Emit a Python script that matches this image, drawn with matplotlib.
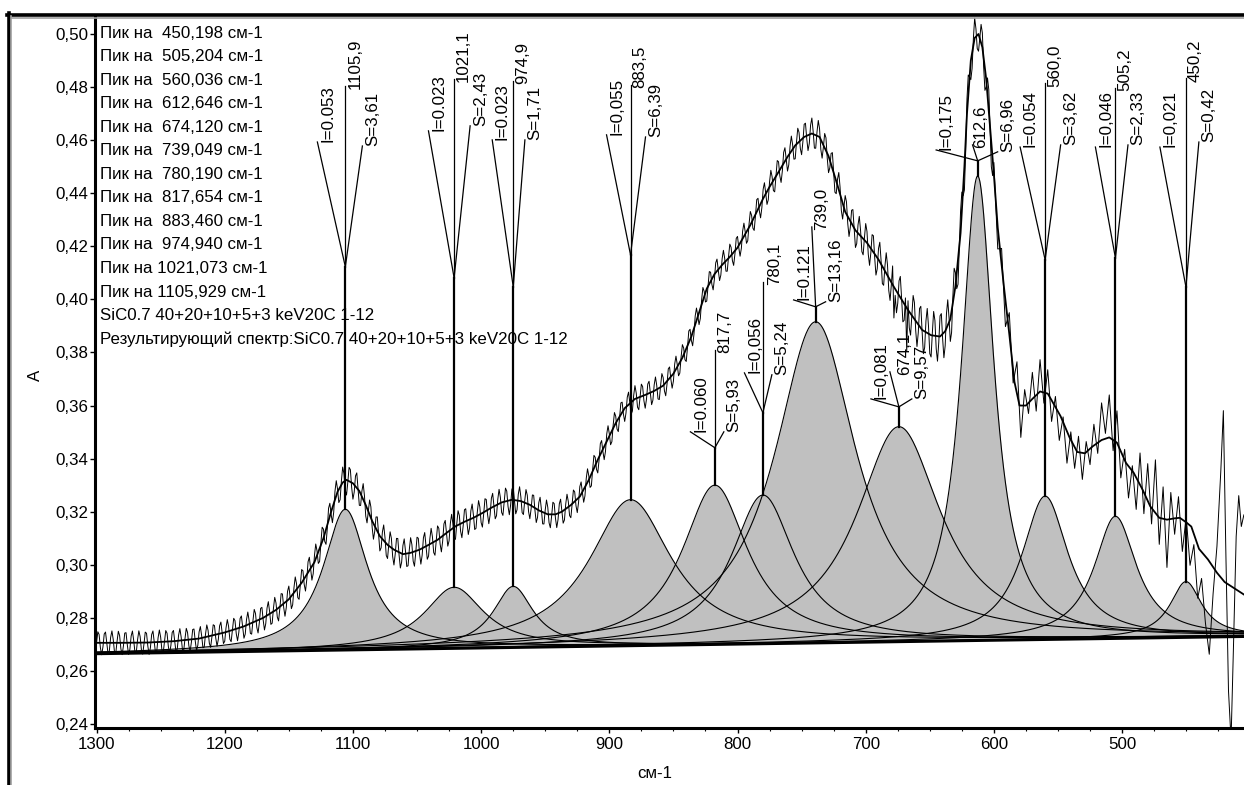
import numpy as np
import matplotlib
matplotlib.use("Agg")
import matplotlib.pyplot as plt
from matplotlib.lines import Line2D
from matplotlib.ticker import MultipleLocator, FuncFormatter

plt.rcParams['font.family'] = ['Liberation Sans', 'DejaVu Sans']

# ---------------- data ----------------
# fitted bands (Lorentzian profiles)
peak_centers = [450.198, 505.204, 560.036, 612.646, 674.120, 739.049,
                780.190, 817.654, 883.460, 974.940, 1021.073, 1105.929]
peak_heights = [0.021, 0.046, 0.054, 0.175, 0.081, 0.121,
                0.056, 0.060, 0.055, 0.023, 0.023, 0.053]
peak_fwhm = [30, 40, 44, 31, 80, 77, 60, 62, 78, 38, 56, 42]

pos_labels = ["450,2", "505,2", "560,0", "612,6", "674,1", "739,0",
              "780,1", "817,7", "883,5", "974,9", "1021,1", "1105,9"]
int_labels = ["I=0,021", "I=0,046", "I=0.054", "I=0,175", "I=0,081", "I=0.121",
              "I=0,056", "I=0.060", "I=0,055", "I=0.023", "I=0.023", "I=0.053"]
area_labels = ["S=0,42", "S=2,33", "S=3,62", "S=6,96", "S=9,57", "S=13,16",
               "S=5,24", "S=5,93", "S=6,39", "S=1,71", "S=2,43", "S=3,61"]

legend_lines = ["Пик на  450,198 см-1", "Пик на  505,204 см-1", "Пик на  560,036 см-1",
                "Пик на  612,646 см-1", "Пик на  674,120 см-1", "Пик на  739,049 см-1",
                "Пик на  780,190 см-1", "Пик на  817,654 см-1", "Пик на  883,460 см-1",
                "Пик на  974,940 см-1", "Пик на 1021,073 см-1", "Пик на 1105,929 см-1",
                "SiC0.7 40+20+10+5+3 keV20C 1-12",
                "Результирующий спектр:SiC0.7 40+20+10+5+3 keV20C 1-12"]

baseline_wn = [405, 1300]
baseline_val = [0.2730, 0.2665]

# resulting (smoothed) spectrum
result_wn = [1300, 1280, 1260, 1240, 1220, 1200, 1185, 1170, 1160, 1150, 1140, 1130,
             1123, 1117, 1112, 1108, 1105, 1100, 1095, 1090, 1085, 1079, 1073, 1068,
             1061, 1055, 1048, 1041, 1034, 1027, 1020, 1013, 1006, 999, 992, 984,
             976, 969, 962, 955, 948, 942, 937, 930, 923, 916, 909, 902, 895, 888,
             880, 872, 865, 858, 850, 843, 836, 830, 824, 818, 812, 806, 800, 790,
             780, 775, 768, 761, 755, 748, 742, 736, 729, 722, 716, 708, 699, 690,
             678, 667, 656, 649, 642, 638, 634, 630, 626, 623, 621, 618, 615, 612,
             609, 606, 603, 600, 597, 592, 588, 584, 580, 575, 570, 564, 558, 555,
             548, 541, 535, 529, 523, 516, 510, 504, 497, 491, 484, 478, 471, 465,
             459, 455, 450, 446, 440, 433, 426, 420, 412, 405]
result_val = [0.2706, 0.2706, 0.2707, 0.2712, 0.2722, 0.2745, 0.2768, 0.2800, 0.2830,
              0.2870, 0.2932, 0.3010, 0.3100, 0.3200, 0.3275, 0.3310, 0.3320, 0.3307,
              0.3278, 0.3225, 0.3165, 0.3108, 0.3075, 0.3057, 0.3040, 0.3045, 0.3057,
              0.3075, 0.3094, 0.3120, 0.3145, 0.3162, 0.3177, 0.3195, 0.3215, 0.3235,
              0.3245, 0.3240, 0.3226, 0.3205, 0.3190, 0.3190, 0.3200, 0.3225, 0.3257,
              0.3320, 0.3396, 0.3465, 0.3534, 0.3590, 0.3625, 0.3640, 0.3655, 0.3675,
              0.3720, 0.3780, 0.3860, 0.3950, 0.4040, 0.4095, 0.4130, 0.4160, 0.4195,
              0.4280, 0.4380, 0.4424, 0.4480, 0.4537, 0.4580, 0.4612, 0.4625, 0.4612,
              0.4540, 0.4430, 0.4330, 0.4260, 0.4213, 0.4150, 0.4047, 0.3960, 0.3885,
              0.3865, 0.3860, 0.3880, 0.3925, 0.4050, 0.4250, 0.4500, 0.4700, 0.4900,
              0.4985, 0.5000, 0.4950, 0.4830, 0.4650, 0.4470, 0.4270, 0.4040, 0.3870,
              0.3690, 0.3600, 0.3600, 0.3625, 0.3653, 0.3645, 0.3620, 0.3560, 0.3480,
              0.3425, 0.3420, 0.3446, 0.3470, 0.3480, 0.3460, 0.3384, 0.3347, 0.3283,
              0.3220, 0.3177, 0.3170, 0.3175, 0.3177, 0.3160, 0.3144, 0.3060, 0.3020,
              0.2970, 0.2935, 0.2910, 0.2888]

fringe_wn = [600, 612, 630, 660, 700, 740, 800, 900, 1000, 1100, 1200, 1300]
fringe_amp = [0.010, 0.007, 0.010, 0.009, 0.007, 0.006, 0.005, 0.005, 0.0055, 0.006, 0.0045, 0.0045]
fringe_period = 5.3
spike_wn = [668, 678]
spike_dev = [-0.025, -0.018]

# noisy low-wavenumber end: deviation of measured spectrum from the resulting one
noise_wn = [597, 594, 591, 588, 585, 582, 579, 576, 573, 570, 567, 564, 561, 558, 555,
            552, 549, 546, 543, 540, 537, 534, 531, 528, 525, 522, 519, 516, 513, 510,
            507, 504, 501, 498, 495, 492, 489, 486, 483, 480, 477, 474, 471, 468, 465,
            462, 459, 456, 453, 450, 447, 444, 441, 438, 435, 432, 429, 426, 423, 421,
            419, 417, 415, 413, 411, 409, 407, 405]
noise_dev = [-0.008, 0.006, -0.010, 0.008, -0.005, 0.012, -0.012, 0.006, -0.004, 0.010,
             -0.006, 0.012, -0.004, 0.009, -0.008, 0.004, -0.010, 0.002, -0.012, 0.003,
             -0.008, 0.006, -0.010, 0.004, -0.006, 0.008, -0.004, 0.014, 0.002, 0.016,
             -0.004, 0.012, -0.010, 0.004, -0.012, 0.002, -0.012, 0.012, -0.008, 0.014,
             -0.006, 0.020, -0.010, 0.012, -0.018, 0.010, -0.006, 0.008, -0.012, 0.002,
             -0.015, -0.004, -0.020, -0.010, -0.025, -0.035, -0.010, 0.010, 0.040, 0.064,
             0.010, -0.040, -0.058, -0.020, 0.020, 0.036, 0.025, 0.030]

# ---------------- annotation layout (positions) ----------------
fork_val = [0.4047, 0.4156, 0.4149, 0.4522, 0.3595, 0.3972, 0.3573, 0.3441, 0.4168, 0.4047, 0.4081, 0.4123]
top_val = [0.4834, 0.4797, 0.4815, 0.4582, 0.3727, 0.4273, 0.4066, 0.3810, 0.4808, 0.4823, 0.4831, 0.4804]
top_dwn = [0, 0, 0, 4, 7, 3, 0, 0, 0, 0, 0, 0]
left_dwn = [20.3, 15.6, 19.5, 32.4, 21.8, 17.2, 14.4, 19.1, 18.7, 16.4, 20.0, 21.8]
left_val = [0.4574, 0.4574, 0.4574, 0.4563, 0.3625, 0.3998, 0.3723, 0.3501, 0.4620, 0.4601, 0.4635, 0.4593]
right_dwn = [-10.1, -9.8, -12.1, -15.6, -10.1, -7.8, -7.0, -7.0, -11.7, -9.1, -12.5, -13.3]
right_val = [0.4593, 0.4582, 0.4582, 0.4556, 0.3625, 0.3991, 0.3716, 0.3501, 0.4612, 0.4601, 0.4654, 0.4578]
pos_dx_pt = [1.5, 1.5, 1.5, 0.5, 5.0, 1.5, 3.0, 1.5, 1.5, 1.5, 1.5, 1.5]

# ---------------- figure ----------------
W, H = 1244, 785
fig = plt.figure(figsize=(W / 100, H / 100), dpi=100)


def fx(px):
    return px / W


def fy(py):
    return 1 - py / H


ax = fig.add_axes([fx(95), fy(728), fx(1244) - fx(95), fy(17) - fy(728)])
ax.set_xlim(1301.2, 404.9)
ax.set_ylim(0.2385, 0.5064)

FS = 12.2


def baseline(w):
    return np.interp(w, baseline_wn, baseline_val)


def component(w, c, h, fw):
    return h / (1 + ((w - c) / (fw / 2.0)) ** 2)


x = np.arange(1302.0, 403.5, -0.5)
base = baseline(x)
for c, h, fw in zip(peak_centers, peak_heights, peak_fwhm):
    comp = component(x, c, h, fw)
    ax.fill_between(x, base, base + comp, color='#c0c0c0', lw=0, zorder=1)
for c, h, fw in zip(peak_centers, peak_heights, peak_fwhm):
    comp = component(x, c, h, fw)
    ax.plot(x, base + comp, color='black', lw=0.8, zorder=2)
ax.plot(x, base, color='black', lw=2.2, zorder=3)

# measured spectrum = resulting spectrum + interference fringes / noise
rw = np.array(result_wn[::-1], dtype=float)
rv = np.array(result_val[::-1], dtype=float)
mw = np.arange(1300.0, 599.5, -1.0)
amp = np.interp(mw, fringe_wn, fringe_amp)
meas = np.interp(mw, rw, rv) + amp * np.sin(2 * np.pi * (1300.0 - mw) / fringe_period)
for sw, sd in zip(spike_wn, spike_dev):
    meas[np.argmin(np.abs(mw - sw))] += sd
nw = np.array(noise_wn, dtype=float)
meas_w = np.concatenate([mw, nw])
meas_v = np.concatenate([meas, np.interp(nw, rw, rv) + np.array(noise_dev)])
ax.plot(meas_w, meas_v, color='black', lw=0.7, zorder=4)

# resulting spectrum
ax.plot(result_wn, result_val, color='black', lw=1.3, zorder=5)

# peak annotations
for i, c in enumerate(peak_centers):
    top = baseline(c) + peak_heights[i]
    ax.plot([c, c], [top, fork_val[i]], color='black', lw=1.6, zorder=6)
    ax.plot([c, c + top_dwn[i]], [fork_val[i], top_val[i]], color='black', lw=0.9, zorder=6)
    ax.plot([c, c + left_dwn[i]], [fork_val[i], left_val[i]], color='black', lw=0.9, zorder=6)
    ax.plot([c, c + right_dwn[i]], [fork_val[i], right_val[i]], color='black', lw=0.9, zorder=6)
    ax.annotate(pos_labels[i], (c + top_dwn[i], top_val[i]), xytext=(pos_dx_pt[i], -2.5),
                textcoords='offset points', rotation=90, ha='left', va='bottom',
                fontsize=FS, zorder=7)
    ax.annotate(int_labels[i], (c + left_dwn[i], left_val[i]), xytext=(2, 0),
                textcoords='offset points', rotation=90, ha='left', va='bottom',
                fontsize=FS, zorder=7)
    ax.annotate(area_labels[i], (c + right_dwn[i], right_val[i]), xytext=(2, 0),
                textcoords='offset points', rotation=90, ha='left', va='bottom',
                fontsize=FS, zorder=7)

# legend-like text block
for k, txt in enumerate(legend_lines):
    ax.text(fx(100), fy(33 + 23.55 * k), txt, transform=fig.transFigure,
            ha='left', va='center', fontsize=FS, zorder=5.5, clip_on=False)

# axes styling
for s in ['top', 'right']:
    ax.spines[s].set_visible(False)
for s in ['left', 'bottom']:
    ax.spines[s].set_linewidth(2.2)
ax.xaxis.set_major_locator(MultipleLocator(100))
ax.xaxis.set_minor_locator(MultipleLocator(25))
ax.yaxis.set_major_locator(MultipleLocator(0.02))
ax.yaxis.set_major_formatter(FuncFormatter(lambda v, p: f"{v:.2f}".replace('.', ',')))
ax.xaxis.set_major_formatter(FuncFormatter(lambda v, p: f"{v:.0f}"))
ax.tick_params(axis='both', which='major', direction='out', length=3.5, width=1,
               labelsize=FS, colors='black')
ax.tick_params(axis='x', which='major', pad=3)
ax.tick_params(axis='y', which='major', pad=1.5)
ax.tick_params(axis='x', which='minor', direction='out', length=2, width=0.8)

fig.text(fx(35), fy(375), "A", rotation=90, ha='center', va='center', fontsize=FS)
fig.text(fx(655), fy(773), "см-1", ha='center', va='center', fontsize=FS)

# outer frame of the window
fig.add_artist(Line2D([fx(7.5), fx(1244)], [fy(14.7), fy(14.7)], color='black', lw=2.6,
                      transform=fig.transFigure))
fig.add_artist(Line2D([fx(10), fx(1244)], [fy(17.5), fy(17.5)], color='#a0a0a0', lw=1.2,
                      transform=fig.transFigure))
fig.add_artist(Line2D([fx(8.7), fx(8.7)], [fy(13), fy(785)], color='black', lw=2.6,
                      transform=fig.transFigure))
fig.add_artist(Line2D([fx(11.3), fx(11.3)], [fy(16), fy(785)], color='#a0a0a0', lw=1.2,
                      transform=fig.transFigure))

fig.savefig("out.png", dpi=100, facecolor='white')
